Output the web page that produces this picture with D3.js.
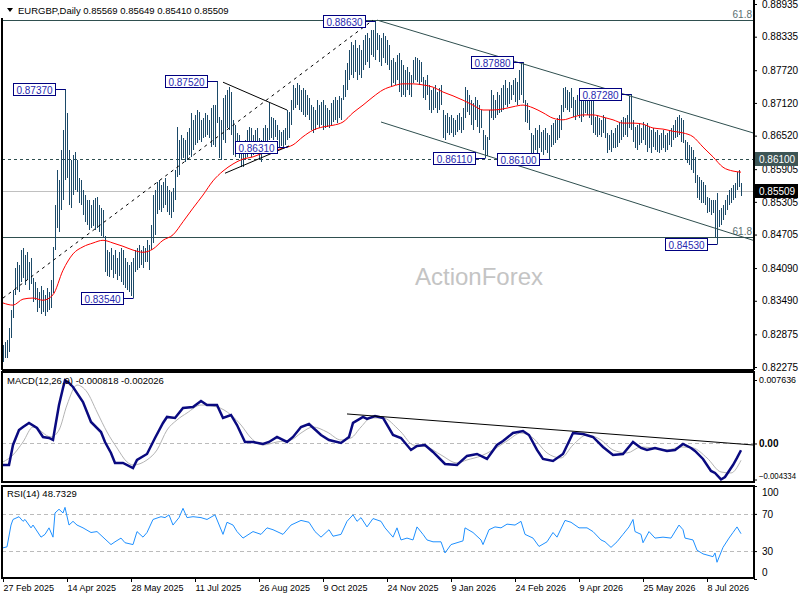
<!DOCTYPE html>
<html><head><meta charset="utf-8">
<script src="https://cdn.jsdelivr.net/npm/d3@7"></script>
<style>
body{margin:0;background:#fff}
svg{display:block}
text{font-family:"Liberation Sans",Arial,sans-serif}
</style>
</head><body>
<svg id="c" width="800" height="600"></svg>
<script>
// ---------------- DATA ----------------
const symbol = "EURGBP,Daily";
const lastOHLC = [0.85569, 0.85649, 0.85410, 0.85509];

const highs = [
0.8268,0.8273,0.8277,0.8299,0.8332,0.8369,0.8409,0.8420,0.8415,0.8442,
0.8446,0.8433,0.8438,0.8420,0.8427,0.8391,0.8383,0.8372,0.8365,0.8376,
0.8369,0.8360,0.8372,0.8365,0.8387,0.8448,0.8525,0.8589,0.8571,0.8626,
0.8662,0.8737,0.8694,0.8626,0.8607,0.8616,0.8622,0.8607,0.8574,0.8571,
0.8552,0.8543,0.8534,0.8534,0.8525,0.8534,0.8538,0.8539,0.8525,0.8519,
0.8515,0.8468,0.8442,0.8438,0.8446,0.8433,0.8442,0.8427,0.8438,0.8446,
0.8442,0.8427,0.8420,0.8415,0.8420,0.8427,0.8442,0.8446,0.8451,0.8442,
0.8449,0.8446,0.8460,0.8451,0.8488,0.8543,0.8552,0.8567,0.8571,0.8561,
0.8567,0.8574,0.8560,0.8552,0.8549,0.8556,0.8589,0.8668,0.8644,0.8653,
0.8648,0.8644,0.8659,0.8666,0.8694,0.8681,0.8690,0.8699,0.8695,0.8681,
0.8684,0.8694,0.8690,0.8681,0.8703,0.8708,0.8708,0.8752,0.8686,0.8681,
0.8721,0.8727,0.8736,0.8741,0.8732,0.8681,0.8671,0.8657,0.8653,0.8638,
0.8635,0.8644,0.8662,0.8668,0.8666,0.8653,0.8662,0.8666,0.8648,0.8644,
0.8666,0.8671,0.8666,0.8712,0.8686,0.8684,0.8681,0.8671,0.8662,0.8659,
0.8662,0.8666,0.8699,0.8695,0.8717,0.8745,0.8739,0.8748,0.8745,0.8736,
0.8739,0.8736,0.8727,0.8721,0.8708,0.8704,0.8699,0.8717,0.8708,0.8714,
0.8717,0.8708,0.8703,0.8699,0.8712,0.8717,0.8723,0.8717,0.8725,0.8721,
0.8745,0.8772,0.8785,0.8809,0.8824,0.8818,0.8827,0.8813,0.8818,0.8809,
0.8827,0.8837,0.8840,0.8831,0.8846,0.8846,0.8863,0.8840,0.8837,0.8831,
0.8840,0.8835,0.8827,0.8818,0.8791,0.8794,0.8787,0.8800,0.8804,0.8791,
0.8782,0.8772,0.8778,0.8769,0.8763,0.8791,0.8796,0.8794,0.8791,0.8787,
0.8760,0.8754,0.8763,0.8745,0.8736,0.8739,0.8745,0.8732,0.8739,0.8745,
0.8699,0.8690,0.8694,0.8686,0.8690,0.8684,0.8681,0.8690,0.8694,0.8686,
0.8703,0.8741,0.8736,0.8727,0.8717,0.8712,0.8723,0.8717,0.8708,0.8699,
0.8662,0.8653,0.8649,0.8699,0.8736,0.8727,0.8717,0.8732,0.8727,0.8739,
0.8745,0.8754,0.8739,0.8750,0.8745,0.8754,0.8758,0.8750,0.8772,0.8787,
0.8788,0.8717,0.8712,0.8699,0.8657,0.8653,0.8666,0.8662,0.8671,0.8659,
0.8662,0.8666,0.8657,0.8653,0.8671,0.8675,0.8681,0.8684,0.8690,0.8708,
0.8739,0.8741,0.8736,0.8732,0.8739,0.8723,0.8717,0.8727,0.8721,0.8717,
0.8723,0.8717,0.8727,0.8721,0.8717,0.8717,0.8686,0.8690,0.8684,0.8681,
0.8690,0.8684,0.8657,0.8653,0.8662,0.8657,0.8666,0.8671,0.8677,0.8681,
0.8686,0.8684,0.8690,0.8725,0.8728,0.8681,0.8668,0.8671,0.8675,0.8666,
0.8677,0.8671,0.8675,0.8668,0.8662,0.8666,0.8659,0.8662,0.8653,0.8657,
0.8662,0.8653,0.8657,0.8662,0.8666,0.8671,0.8681,0.8686,0.8690,0.8684,
0.8681,0.8644,0.8640,0.8635,0.8631,0.8626,0.8613,0.8580,0.8576,0.8571,
0.8567,0.8561,0.8539,0.8538,0.8534,0.8534,0.8534,0.8547,0.8515,0.8519,
0.8525,0.8534,0.8543,0.8552,0.8556,0.8561,0.8565,0.8585,0.8589,0.85649
];
const lows = [
0.8237,0.8244,0.8244,0.8255,0.8281,0.8317,0.8360,0.8369,0.8365,0.8383,
0.8391,0.8378,0.8387,0.8369,0.8380,0.8347,0.8350,0.8328,0.8336,0.8325,
0.8328,0.8321,0.8328,0.8332,0.8336,0.8363,0.8442,0.8482,0.8475,0.8515,
0.8534,0.8571,0.8574,0.8525,0.8519,0.8543,0.8552,0.8549,0.8528,0.8525,
0.8506,0.8493,0.8488,0.8479,0.8482,0.8486,0.8479,0.8482,0.8475,0.8468,
0.8464,0.8402,0.8394,0.8393,0.8405,0.8391,0.8398,0.8387,0.8394,0.8383,
0.8378,0.8372,0.8369,0.8365,0.8358,0.8354,0.8402,0.8405,0.8409,0.8415,
0.8409,0.8420,0.8420,0.8405,0.8442,0.8455,0.8470,0.8508,0.8515,0.8512,
0.8519,0.8525,0.8512,0.8506,0.8501,0.8512,0.8534,0.8576,0.8580,0.8607,
0.8611,0.8604,0.8607,0.8616,0.8613,0.8626,0.8635,0.8638,0.8644,0.8640,
0.8648,0.8649,0.8653,0.8648,0.8631,0.8635,0.8631,0.8675,0.8611,0.8607,
0.8644,0.8638,0.8666,0.8662,0.8653,0.8616,0.8613,0.8620,0.8611,0.8594,
0.8594,0.8607,0.8613,0.8626,0.8613,0.8616,0.8622,0.8626,0.8607,0.8604,
0.8626,0.8631,0.8629,0.8644,0.8648,0.8644,0.8649,0.8644,0.8631,0.8633,
0.8631,0.8635,0.8644,0.8648,0.8671,0.8699,0.8703,0.8708,0.8699,0.8695,
0.8690,0.8686,0.8690,0.8681,0.8662,0.8657,0.8662,0.8671,0.8666,0.8671,
0.8662,0.8666,0.8668,0.8666,0.8671,0.8677,0.8681,0.8675,0.8684,0.8681,
0.8717,0.8723,0.8736,0.8754,0.8763,0.8758,0.8769,0.8754,0.8763,0.8758,
0.8772,0.8782,0.8787,0.8776,0.8800,0.8796,0.8791,0.8809,0.8787,0.8780,
0.8794,0.8785,0.8782,0.8772,0.8741,0.8749,0.8745,0.8754,0.8732,0.8723,
0.8727,0.8723,0.8736,0.8727,0.8723,0.8749,0.8754,0.8750,0.8745,0.8750,
0.8721,0.8717,0.8727,0.8699,0.8694,0.8699,0.8703,0.8694,0.8699,0.8708,
0.8648,0.8644,0.8657,0.8653,0.8657,0.8649,0.8653,0.8659,0.8662,0.8657,
0.8662,0.8684,0.8695,0.8690,0.8671,0.8662,0.8681,0.8668,0.8657,0.8666,
0.8626,0.8611,0.8615,0.8644,0.8684,0.8681,0.8684,0.8690,0.8694,0.8695,
0.8699,0.8708,0.8705,0.8710,0.8717,0.8727,0.8714,0.8708,0.8717,0.8727,
0.8712,0.8677,0.8675,0.8662,0.8616,0.8613,0.8626,0.8620,0.8629,0.8622,
0.8616,0.8626,0.8620,0.8610,0.8631,0.8635,0.8638,0.8644,0.8648,0.8662,
0.8695,0.8703,0.8699,0.8695,0.8703,0.8686,0.8681,0.8690,0.8684,0.8677,
0.8686,0.8694,0.8690,0.8684,0.8671,0.8657,0.8653,0.8649,0.8653,0.8649,
0.8657,0.8648,0.8620,0.8626,0.8622,0.8629,0.8629,0.8631,0.8638,0.8644,
0.8649,0.8653,0.8649,0.8666,0.8662,0.8640,0.8629,0.8626,0.8635,0.8638,
0.8644,0.8635,0.8622,0.8629,0.8620,0.8631,0.8626,0.8622,0.8620,0.8626,
0.8629,0.8622,0.8626,0.8635,0.8631,0.8644,0.8648,0.8649,0.8653,0.8640,
0.8638,0.8607,0.8602,0.8598,0.8589,0.8583,0.8565,0.8538,0.8534,0.8528,
0.8528,0.8525,0.8510,0.8512,0.8506,0.8510,0.8466,0.8453,0.8484,0.8488,
0.8497,0.8506,0.8515,0.8525,0.8528,0.8534,0.8538,0.8552,0.8558,0.85410
];

// moving average (red), sampled every 5 bars + last bar
const maValues = [
0.8345,0.8341,0.8352,0.8354,0.8350,0.8360,0.8405,0.8435,0.8448,0.8455,
0.8460,0.8455,0.8449,0.8442,0.8438,0.8444,0.8460,0.8470,0.8494,0.8519,
0.8543,0.8569,0.8587,0.8600,0.8609,0.8613,0.8620,0.8624,0.8629,0.8635,
0.8650,0.8662,0.8668,0.8671,0.8677,0.8694,0.8708,0.8723,0.8736,0.8743,
0.8747,0.8747,0.8745,0.8741,0.8732,0.8725,0.8717,0.8708,0.8699,0.8699,
0.8701,0.8705,0.8708,0.8703,0.8694,0.8684,0.8681,0.8686,0.8690,0.8690,
0.8686,0.8681,0.8675,0.8675,0.8673,0.8666,0.8664,0.8660,0.8657,0.8650,
0.8631,0.8613,0.8594,0.8587,0.8585
];

// MACD main line [bar, value]
const macdMain = [[0,-0.00259],[3,-0.00259],[5,-0.00018],[8,0.00162],[10,0.00198],[13,0.00247],[17,0.00186],[20,0.00078],[23,0.00066],[25,0.00042],[26,0.00186],[28,0.00463],[30,0.00667],[31,0.00760],[33,0.00728],[35,0.00680],[40,0.00499],[44,0.00259],[49,0.00138],[51,0.00018],[54,-0.00114],[56,-0.00234],[60,-0.00234],[65,-0.00295],[67,-0.00198],[72,-0.00126],[76,0.00066],[80,0.00247],[82,0.00319],[86,0.00307],[90,0.00427],[95,0.00439],[99,0.00511],[102,0.00463],[107,0.00463],[110,0.00307],[114,0.00343],[117,0.00222],[121,0.00018],[125,0.00018],[130,-0.00006],[133,0.00018],[137,0.00078],[142,0.00018],[145,0.00078],[149,0.00198],[153,0.00234],[159,0.00102],[163,0.00042],[169,0.00006],[173,0.00078],[175,0.00247],[180,0.00319],[182,0.00295],[186,0.00331],[190,0.00307],[195,0.00102],[199,0.00066],[204,-0.00078],[207,-0.00030],[211,-0.00018],[215,-0.00102],[221,-0.00247],[227,-0.00259],[232,-0.00150],[237,-0.00126],[242,-0.00186],[247,-0.00018],[250,0.00030],[255,0.00126],[260,0.00150],[263,0.00102],[267,-0.00078],[270,-0.00186],[275,-0.00210],[280,-0.00126],[285,0.00126],[290,0.00114],[295,0.00078],[300,-0.00042],[305,-0.00138],[310,-0.00126],[315,0.00018],[319,-0.00054],[322,-0.00078],[326,-0.00054],[332,-0.00090],[336,-0.00078],[340,-0.00006],[344,-0.00054],[346,-0.00090],[350,-0.00186],[354,-0.00331],[356,-0.00355],[359,-0.00433],[361,-0.00403],[365,-0.00259],[367,-0.00174],[369,-0.000818]];
// MACD signal line [bar, value]
const macdSignal = [[0,-0.00222],[5,-0.00138],[10,0.00018],[15,0.00198],[24,0.00078],[28,0.00162],[32,0.00463],[37,0.00703],[42,0.00619],[47,0.00379],[52,0.00138],[57,-0.00054],[62,-0.00222],[65,-0.00259],[72,-0.00198],[77,-0.00078],[82,0.00162],[87,0.00283],[92,0.00367],[99,0.00463],[107,0.00439],[114,0.00343],[119,0.00222],[124,0.00066],[130,-0.00018],[137,0.00018],[144,0.00042],[149,0.00126],[155,0.00198],[162,0.00138],[169,0.00042],[174,0.00066],[179,0.00198],[184,0.00307],[190,0.00307],[197,0.00186],[199,0.00138],[205,-0.00018],[212,-0.00042],[219,-0.00138],[227,-0.00234],[232,-0.00198],[239,-0.00150],[245,-0.00078],[252,0.00030],[259,0.00126],[265,0.00066],[272,-0.00114],[279,-0.00174],[285,-0.00018],[292,0.00102],[299,0.00042],[305,-0.00078],[312,-0.00114],[319,-0.00042],[325,-0.00054],[332,-0.00078],[339,-0.00042],[345,-0.00054],[352,-0.00174],[359,-0.00343],[364,-0.00355],[369,-0.002026]];
// RSI(14) [bar, value]
const rsi = [[0,33.5],[2,34.6],[4,58],[5,64],[8,67],[10,62],[11,64],[14,55],[15,58],[19,45],[21,48],[23,55],[25,45],[26,71],[28,75],[30,71],[31,77],[33,58],[35,62],[37,58],[40,55],[44,50],[47,51],[50,45],[54,37],[56,40],[59,44],[61,39],[65,37],[67,51],[70,45],[72,50],[75,64],[79,67],[81,66],[83,69],[85,58],[88,66],[90,76],[92,66],[95,67],[99,66],[102,64],[106,69],[110,48],[112,61],[115,58],[117,51],[120,44],[125,51],[129,48],[132,55],[135,53],[140,48],[144,58],[149,63],[153,61],[156,51],[159,45],[163,53],[165,46],[169,48],[172,62],[175,69],[177,62],[179,66],[182,56],[185,65],[189,62],[191,55],[195,45],[197,55],[199,42],[202,44],[205,42],[207,56],[210,48],[212,42],[215,40],[219,40],[221,28],[224,37],[227,39],[230,41],[231,55],[235,50],[239,42],[240,37],[243,53],[246,56],[249,55],[252,59],[256,58],[259,62],[261,48],[265,44],[268,35],[272,40],[275,50],[277,45],[281,63],[284,61],[288,55],[292,55],[295,51],[299,42],[301,40],[304,34],[307,40],[310,48],[313,56],[315,64],[316,51],[319,48],[320,39],[323,51],[326,44],[330,45],[334,44],[338,58],[340,53],[341,44],[345,42],[347,31],[350,27],[355,24],[356,28],[357,18],[360,34],[363,44],[365,50],[367,56],[369,48.7329]];

const priceTicks = [0.88935,0.88335,0.87720,0.87120,0.86520,0.85905,0.85305,0.84705,0.84090,0.83490,0.82875,0.82275];
const macdTicks = [0.007636, 0, -0.004334];
const rsiTicks = [100, 70, 30, 0];
const rsiLevels = [70, 30];
const dateLabels = ["27 Feb 2025","14 Apr 2025","28 May 2025","11 Jul 2025","26 Aug 2025","9 Oct 2025","24 Nov 2025","9 Jan 2026","24 Feb 2026","9 Apr 2026","25 May 2026","8 Jul 2026"];
const dateTickBars = [0,32,64,96,128,160,192,224,256,288,320,352];

// swing labels [bar, price, text]
const swingLabels = [[31,0.8737,"0.87370"],[107,0.8752,"0.87520"],[186,0.8863,"0.88630"],[142,0.8631,"0.86310"],[65,0.8354,"0.83540"],[260,0.8788,"0.87880"],[241,0.8611,"0.86110"],[273,0.8610,"0.86100"],[314,0.8728,"0.87280"],[357,0.8453,"0.84530"]];
// trend lines [[bar,price],[bar,price]]
const dashedTrend = [[0,0.8354],[185,0.8864]];
const channelLines = [[[187,0.8864],[375,0.8657]],[[189,0.8677],[375,0.8460]]];
const triangleLines = [[[110,0.8750],[142,0.8699]],[[111,0.8583],[143,0.8633]]];
const macdTrend = [[172,0.00355],[375,-0.00018]];
const fibLevels = [0.8865, 0.8466];
const supportLevel = 0.8610;
const lastPrice = 0.85509;

// ---------------- CHART ----------------
const svg = d3.select("#c");
const L = 2, R = 754;
const mainTop = 0, mainBot = 370, macdTop = 372, macdBot = 482, rsiTop = 486, rsiBot = 578;
const x = d3.scaleLinear().domain([0,369]).range([3,741]);
const y = d3.scaleLinear().domain([0.82275,0.88935]).range([367,4]);
const yM = d3.scaleLinear().domain([-0.004334,0.007636]).range([479.5,380]);
const yR = d3.scaleLinear().domain([0,100]).range([579,486]);
const px = v => Math.round(x(v)) + 0.5;

const defs = svg.append("defs");
function clip(id, y0, y1){
  defs.append("clipPath").attr("id",id).append("rect").attr("x",L).attr("y",y0).attr("width",R-L).attr("height",y1-y0);
}
clip("cm",mainTop,mainBot); clip("cd",macdTop,macdBot); clip("cr",rsiTop,rsiBot);

const gMain = svg.append("g").attr("clip-path","url(#cm)");
const slate = "#2f4f4f";

// horizontal levels
gMain.append("line").attr("x1",L).attr("x2",R).attr("y1",Math.round(y(lastPrice))+0.5).attr("y2",Math.round(y(lastPrice))+0.5).attr("stroke","#c0c0c0");
gMain.append("line").attr("x1",L).attr("x2",R).attr("y1",Math.round(y(supportLevel))+0.5).attr("y2",Math.round(y(supportLevel))+0.5).attr("stroke",slate).attr("stroke-dasharray","3,3");
fibLevels.forEach(f=>{
  gMain.append("line").attr("x1",L).attr("x2",R).attr("y1",Math.round(y(f))+0.5).attr("y2",Math.round(y(f))+0.5).attr("stroke",slate);
  gMain.append("text").attr("x",752).attr("y",y(f)-2).attr("text-anchor","end").attr("font-size",10).attr("fill","#5a7070").text("61.8");
});

// watermark
svg.append("text").attr("x",479).attr("y",285).attr("text-anchor","middle").attr("font-size",24).attr("fill","#c4c4c4").text("ActionForex");

// bars
gMain.append("g").selectAll("line").data(highs).join("line")
  .attr("x1",(d,i)=>px(i)).attr("x2",(d,i)=>px(i))
  .attr("y1",d=>y(d)).attr("y2",(d,i)=>y(lows[i]))
  .attr("stroke","#1c4a68").attr("stroke-width",1).attr("shape-rendering","crispEdges");

// MA
const maBars = d3.range(0,370,5).concat([369]);
gMain.append("path").datum(maValues).attr("fill","none").attr("stroke","#ff0000").attr("stroke-width",1)
  .attr("d",d3.line().x((d,i)=>x(maBars[i])).y(d=>y(d)).curve(d3.curveMonotoneX));

// trendlines
const tl = d3.line().x(d=>x(d[0])).y(d=>y(d[1]));
gMain.append("path").datum(dashedTrend).attr("d",tl).attr("stroke","#000").attr("stroke-dasharray","3,4").attr("fill","none");
channelLines.forEach(c=>gMain.append("path").datum(c).attr("d",tl).attr("stroke",slate).attr("fill","none"));
triangleLines.forEach(c=>gMain.append("path").datum(c).attr("d",tl).attr("stroke","#000").attr("fill","none"));

// swing labels
swingLabels.forEach(([b,p,t])=>{
  const bx = px(b), by = Math.round(y(p))+0.5;
  const bw = 42, bh = 12, right = bx - 10;
  gMain.append("line").attr("x1",right).attr("x2",bx).attr("y1",by).attr("y2",by).attr("stroke","#000080");
  gMain.append("rect").attr("x",right-bw).attr("y",by-bh/2).attr("width",bw).attr("height",bh).attr("fill","#fff").attr("stroke","#000080");
  gMain.append("text").attr("x",right-bw/2).attr("y",by+4).attr("text-anchor","middle").attr("font-size",10).attr("fill","#2828b0").text(t);
});

// title
svg.append("path").attr("d","M7,8 L13,8 L10,12 Z").attr("fill","#000");
svg.append("text").attr("x",18).attr("y",14).attr("font-size",9.5).attr("fill","#000")
  .text(symbol + "  " + lastOHLC.map(v=>v.toFixed(5)).join(" "));

// MACD panel
const gM = svg.append("g").attr("clip-path","url(#cd)");
gM.append("line").attr("x1",L).attr("x2",R).attr("y1",Math.round(yM(0))+0.5).attr("y2",Math.round(yM(0))+0.5).attr("stroke","#bbb").attr("stroke-dasharray","4,3");
gM.append("path").datum(macdSignal).attr("fill","none").attr("stroke","#b4b4b4").attr("stroke-width",1)
  .attr("d",d3.line().x(d=>x(d[0])).y(d=>yM(d[1])).curve(d3.curveMonotoneX));
gM.append("path").datum(macdMain).attr("fill","none").attr("stroke","#0a0a80").attr("stroke-width",2.5)
  .attr("d",d3.line().x(d=>x(d[0])).y(d=>yM(d[1])));
gM.append("path").datum(macdTrend).attr("fill","none").attr("stroke","#000")
  .attr("d",d3.line().x(d=>x(d[0])).y(d=>yM(d[1])));
svg.append("text").attr("x",7).attr("y",384).attr("font-size",9.5).attr("fill","#000").text("MACD(12,26,9) -0.000818 -0.002026");

// RSI panel
const gR = svg.append("g").attr("clip-path","url(#cr)");
rsiLevels.forEach(l=>gR.append("line").attr("x1",L).attr("x2",R).attr("y1",Math.round(yR(l))+0.5).attr("y2",Math.round(yR(l))+0.5).attr("stroke","#bbb").attr("stroke-dasharray","4,3"));
gR.append("path").datum(rsi).attr("fill","none").attr("stroke","#1e90ff").attr("stroke-width",1)
  .attr("d",d3.line().x(d=>x(d[0])).y(d=>yR(d[1])));
svg.append("text").attr("x",7).attr("y",497).attr("font-size",9.5).attr("fill","#000").text("RSI(14) 48.7329");

// frames
const fr = svg.append("g").attr("stroke","#000").attr("stroke-width",1.3).attr("fill","none").attr("shape-rendering","crispEdges");
fr.append("line").attr("x1",L).attr("x2",L).attr("y1",18).attr("y2",mainBot);
fr.append("line").attr("x1",L).attr("x2",R).attr("y1",mainBot).attr("y2",mainBot);
fr.append("line").attr("x1",R).attr("x2",R).attr("y1",0).attr("y2",mainBot);
fr.append("rect").attr("x",L).attr("y",macdTop).attr("width",R-L).attr("height",macdBot-macdTop);
fr.append("rect").attr("x",L).attr("y",rsiTop).attr("width",R-L).attr("height",rsiBot-rsiTop);

// axes
function styleAxis(g, fs){
  g.select(".domain").remove();
  g.selectAll("text").attr("font-size",fs).attr("fill","#000").style("font-family","'Liberation Sans',Arial,sans-serif");
  g.selectAll(".tick line").attr("stroke","#000");
}
const aP = svg.append("g").attr("transform",`translate(${R},0)`)
  .call(d3.axisRight(y).tickValues(priceTicks).tickFormat(d3.format(".5f")).tickSize(3).tickPadding(5));
styleAxis(aP,10);

const aM = svg.append("g").attr("transform",`translate(${R},0)`)
  .call(d3.axisRight(yM).tickValues(macdTicks).tickFormat(d=>d===0?"0.00":d3.format(".6f")(d)).tickSize(3).tickPadding(2));
styleAxis(aM,8.5);
aM.selectAll(".tick text").filter(d=>d===0).attr("font-weight","bold").attr("font-size",10);
aM.selectAll(".tick").filter(d=>d<0).select("text").attr("dy","-0.15em").attr("textLength",37).attr("lengthAdjust","spacingAndGlyphs");
aM.selectAll(".tick").filter(d=>d>0).select("text").attr("textLength",37).attr("lengthAdjust","spacingAndGlyphs");

const aR = svg.append("g").attr("transform",`translate(${R},0)`)
  .call(d3.axisRight(yR).tickValues(rsiTicks).tickSize(3).tickPadding(5));
styleAxis(aR,10);
aR.selectAll(".tick").filter(d=>d===100).select("text").attr("dy","0.95em");
aR.selectAll(".tick").filter(d=>d===0).select("text").attr("dy","-0.35em");

const aX = svg.append("g").attr("transform",`translate(0,${rsiBot})`)
  .call(d3.axisBottom(x).tickValues(dateTickBars).tickFormat((d,i)=>dateLabels[i]).tickSize(4).tickPadding(3));
styleAxis(aX,9);
aX.selectAll(".tick text").attr("text-anchor","start").attr("dx","0");

// price tags
function tag(p, fill){
  const cy = Math.round(y(p));
  svg.append("rect").attr("x",R+1).attr("y",cy-7).attr("width",43).attr("height",14).attr("fill",fill);
  svg.append("text").attr("x",R+5).attr("y",cy+4).attr("font-size",10).attr("fill","#fff").text(d3.format(".5f")(p));
}
tag(supportLevel, "#3d5555");
tag(lastPrice, "#000");
</script>
</body></html>
